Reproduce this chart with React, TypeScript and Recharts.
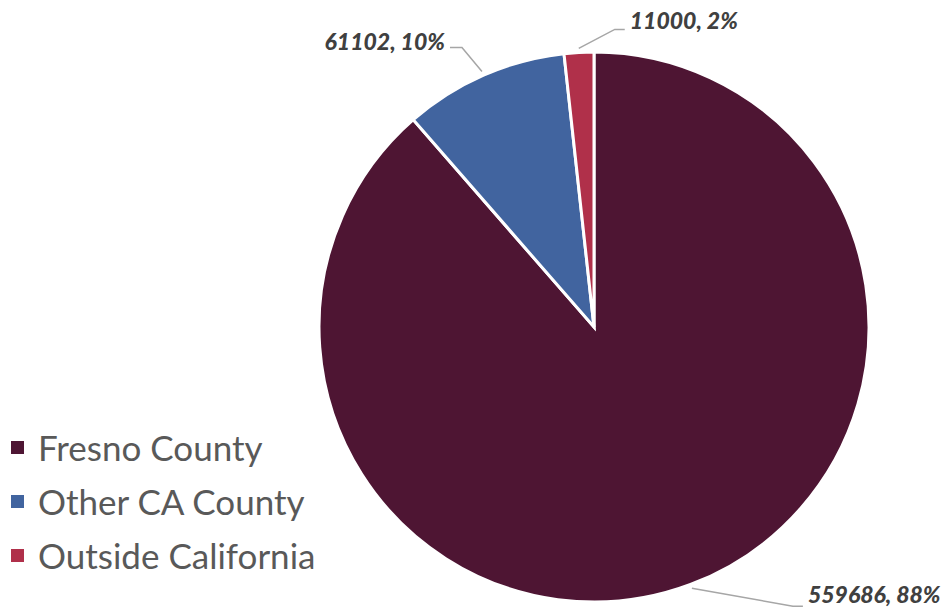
import { Pie, PieChart, Cell, Legend } from "recharts";

const categories = ["Fresno County", "Other CA County", "Outside California"];
const counts = [559686, 61102, 11000];
const percentLabels = ["88%", "10%", "2%"];
const colors = ["#4E1533", "#41649F", "#B0304A"];

// leader line layout for each data label: elbow offset, horizontal run, text baseline shift
const leaders = [
  { dx: 101, dy: 18, run: 10, ty: -3 },
  { dx: -20, dy: -24, run: -12, ty: 3 },
  { dx: 36, dy: -19, run: 10, ty: 0 },
];

const data = categories.map((name, i) => ({
  name,
  value: counts[i],
  label: `${counts[i]}, ${percentLabels[i]}`,
}));

const RADIAN = Math.PI / 180;

function renderLabel(props: any) {
  const { cx, cy, midAngle, outerRadius, index } = props;
  const l = leaders[index];
  const sx = cx + (outerRadius + 4) * Math.cos(-midAngle * RADIAN);
  const sy = cy + (outerRadius + 4) * Math.sin(-midAngle * RADIAN);
  const ex = sx + l.dx;
  const ey = sy + l.dy;
  const hx = ex + l.run;
  const right = l.run > 0;
  return (
    <g>
      <polyline
        points={`${sx},${sy} ${ex},${ey} ${hx},${ey}`}
        fill="none"
        stroke="#A6A6A6"
        strokeWidth={1.5}
      />
      <text
        x={hx + (right ? 5 : -5)}
        y={ey + l.ty}
        textAnchor={right ? "start" : "end"}
        fill="#404040"
        fontSize={23}
        fontWeight={900}
        fontStyle="italic"
        fontFamily="Lato, sans-serif"
      >
        {data[index].label}
      </text>
    </g>
  );
}

function renderLegend() {
  return (
    <div style={{ fontFamily: "Lato, sans-serif" }}>
      {data.map((d, i) => (
        <div
          key={d.name}
          style={{
            display: "flex",
            alignItems: "center",
            height: 54,
            fontSize: 35,
            color: "#595959",
          }}
        >
          <span
            style={{
              width: 13,
              height: 13,
              background: colors[i],
              marginRight: 14,
              display: "inline-block",
            }}
          />
          {d.name}
        </div>
      ))}
    </div>
  );
}

export default function App() {
  return (
    <div style={{ position: "absolute", left: 0, top: 0, background: "#fff" }}>
      <PieChart width={947} height={609} margin={{ top: 0, right: 0, bottom: 0, left: 0 }}>
        <Pie
          data={data}
          dataKey="value"
          nameKey="name"
          cx={594}
          cy={327}
          outerRadius={275}
          startAngle={90}
          endAngle={-270}
          stroke="#fff"
          strokeWidth={3}
          label={renderLabel}
          labelLine={false}
          isAnimationActive={false}
        >
          {data.map((d, i) => (
            <Cell key={d.name} fill={colors[i]} />
          ))}
        </Pie>
        <Legend
          content={renderLegend}
          wrapperStyle={{ position: "absolute", left: 11, top: 420, width: 330, bottom: "auto" }}
        />
      </PieChart>
    </div>
  );
}
